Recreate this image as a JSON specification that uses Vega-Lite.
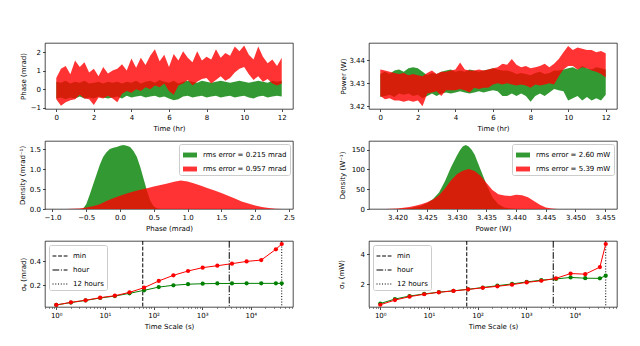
{
"$schema": "https://vega.github.io/schema/vega-lite/v6.json",
"padding": {"left": 17, "top": 42, "right": 5, "bottom": 5},
"config": {
 "font": "DejaVu Sans",
 "view": {"stroke": "black", "strokeWidth": 0.7},
 "axis": {"labelFontSize": 7, "titleFontSize": 7, "titleFontWeight": "normal", "labelColor": "black", "titleColor": "black", "tickColor": "black", "tickSize": 2.5, "tickWidth": 0.7, "labelPadding": 2, "titlePadding": 3.5, "grid": false, "domain": false, "labelFlush": false, "labelOverlap": false, "labelFont": "DejaVu Sans", "titleFont": "DejaVu Sans"},
 "legend": {"labelFontSize": 7, "labelFont": "DejaVu Sans", "labelColor": "black"}
},
"datasets": {
 "phG": [
  {"t":0,"lo":-0.5,"hi":0.4},{"t":0.25,"lo":-0.45,"hi":0.35},{"t":0.5,"lo":-0.55,"hi":0.45},{"t":0.75,"lo":-0.45,"hi":0.3},{"t":1,"lo":-0.5,"hi":0.4},{"t":1.25,"lo":-0.4,"hi":0.35},{"t":1.5,"lo":-0.5,"hi":0.45},{"t":1.75,"lo":-0.45,"hi":0.3},{"t":2,"lo":-0.5,"hi":0.35},{"t":2.25,"lo":-0.4,"hi":0.4},{"t":2.5,"lo":-0.45,"hi":0.3},{"t":2.75,"lo":-0.5,"hi":0.4},{"t":3,"lo":-0.45,"hi":0.35},{"t":3.25,"lo":-0.4,"hi":0.4},{"t":3.5,"lo":-0.5,"hi":0.3},{"t":3.75,"lo":-0.35,"hi":0.4},{"t":4,"lo":-0.45,"hi":0.35},{"t":4.25,"lo":-0.4,"hi":0.45},{"t":4.5,"lo":-0.35,"hi":0.3},{"t":4.75,"lo":-0.45,"hi":0.4},{"t":5,"lo":-0.4,"hi":0.45},{"t":5.25,"lo":-0.35,"hi":0.35},{"t":5.5,"lo":-0.45,"hi":0.5},{"t":5.75,"lo":-0.4,"hi":0.4},{"t":6,"lo":-0.5,"hi":0.35},{"t":6.25,"lo":-0.6,"hi":0.45},{"t":6.5,"lo":-0.55,"hi":0.3},{"t":6.75,"lo":-0.4,"hi":0.4},{"t":7,"lo":-0.35,"hi":0.45},{"t":7.25,"lo":-0.45,"hi":0.4},{"t":7.5,"lo":-0.4,"hi":0.35},{"t":7.75,"lo":-0.35,"hi":0.45},{"t":8,"lo":-0.45,"hi":0.4},{"t":8.25,"lo":-0.4,"hi":0.35},{"t":8.5,"lo":-0.35,"hi":0.4},{"t":8.75,"lo":-0.45,"hi":0.45},{"t":9,"lo":-0.4,"hi":0.4},{"t":9.25,"lo":-0.35,"hi":0.35},{"t":9.5,"lo":-0.45,"hi":0.4},{"t":9.75,"lo":-0.4,"hi":0.45},{"t":10,"lo":-0.35,"hi":0.4},{"t":10.25,"lo":-0.45,"hi":0.35},{"t":10.5,"lo":-0.5,"hi":0.4},{"t":10.75,"lo":-0.4,"hi":0.45},{"t":11,"lo":-0.35,"hi":0.4},{"t":11.25,"lo":-0.45,"hi":0.35},{"t":11.5,"lo":-0.4,"hi":0.45},{"t":11.75,"lo":-0.35,"hi":0.4},{"t":12,"lo":-0.4,"hi":0.45}
 ],
 "phR": [
  {"t":0,"lo":-0.55,"hi":0.6},{"t":0.25,"lo":-0.9,"hi":1.1},{"t":0.5,"lo":-0.7,"hi":1.25},{"t":0.75,"lo":-0.6,"hi":0.8},{"t":1,"lo":-0.55,"hi":1.55},{"t":1.25,"lo":-0.3,"hi":1.2},{"t":1.5,"lo":-0.5,"hi":1.45},{"t":1.75,"lo":-0.55,"hi":0.9},{"t":2,"lo":-0.85,"hi":1.1},{"t":2.25,"lo":-0.45,"hi":0.7},{"t":2.5,"lo":-0.5,"hi":1.2},{"t":2.75,"lo":-0.35,"hi":0.85},{"t":3,"lo":-0.5,"hi":1.0},{"t":3.25,"lo":-0.7,"hi":1.1},{"t":3.5,"lo":-0.25,"hi":1.35},{"t":3.75,"lo":-0.1,"hi":1.0},{"t":4,"lo":-0.2,"hi":1.65},{"t":4.25,"lo":0.0,"hi":1.15},{"t":4.5,"lo":-0.1,"hi":1.7},{"t":4.75,"lo":0.1,"hi":1.3},{"t":5,"lo":0.0,"hi":1.8},{"t":5.25,"lo":0.2,"hi":2.15},{"t":5.5,"lo":0.1,"hi":1.5},{"t":5.75,"lo":0.3,"hi":1.85},{"t":6,"lo":-0.1,"hi":1.2},{"t":6.25,"lo":-0.3,"hi":1.9},{"t":6.5,"lo":0.2,"hi":1.55},{"t":6.75,"lo":0.3,"hi":2.05},{"t":7,"lo":0.5,"hi":1.7},{"t":7.25,"lo":0.2,"hi":1.45},{"t":7.5,"lo":0.4,"hi":2.05},{"t":7.75,"lo":0.55,"hi":1.55},{"t":8,"lo":0.6,"hi":1.75},{"t":8.25,"lo":0.3,"hi":1.6},{"t":8.5,"lo":0.5,"hi":2.15},{"t":8.75,"lo":0.7,"hi":1.7},{"t":9,"lo":0.45,"hi":1.95},{"t":9.25,"lo":0.6,"hi":1.8},{"t":9.5,"lo":0.9,"hi":2.3},{"t":9.75,"lo":1.1,"hi":2.05},{"t":10,"lo":1.2,"hi":2.35},{"t":10.25,"lo":0.8,"hi":1.85},{"t":10.5,"lo":0.5,"hi":1.6},{"t":10.75,"lo":0.7,"hi":2.3},{"t":11,"lo":0.4,"hi":1.75},{"t":11.25,"lo":0.55,"hi":1.4},{"t":11.5,"lo":0.3,"hi":1.6},{"t":11.75,"lo":0.2,"hi":1.25},{"t":12,"lo":0.3,"hi":1.7}
 ],
 "pwG": [
  {"t":0,"lo":3.424,"hi":3.434},{"t":0.25,"lo":3.4245,"hi":3.435},{"t":0.5,"lo":3.425,"hi":3.434},{"t":0.75,"lo":3.424,"hi":3.4355},{"t":1,"lo":3.4255,"hi":3.436},{"t":1.25,"lo":3.425,"hi":3.435},{"t":1.5,"lo":3.4255,"hi":3.4365},{"t":1.75,"lo":3.4245,"hi":3.437},{"t":2,"lo":3.425,"hi":3.4365},{"t":2.25,"lo":3.4235,"hi":3.435},{"t":2.5,"lo":3.4245,"hi":3.4335},{"t":2.75,"lo":3.4255,"hi":3.4345},{"t":3,"lo":3.4245,"hi":3.434},{"t":3.25,"lo":3.4255,"hi":3.435},{"t":3.5,"lo":3.426,"hi":3.4355},{"t":3.75,"lo":3.4255,"hi":3.436},{"t":4,"lo":3.426,"hi":3.435},{"t":4.25,"lo":3.4265,"hi":3.4355},{"t":4.5,"lo":3.426,"hi":3.435},{"t":4.75,"lo":3.4255,"hi":3.436},{"t":5,"lo":3.426,"hi":3.4355},{"t":5.25,"lo":3.4265,"hi":3.435},{"t":5.5,"lo":3.426,"hi":3.4355},{"t":5.75,"lo":3.4265,"hi":3.436},{"t":6,"lo":3.427,"hi":3.4365},{"t":6.25,"lo":3.4265,"hi":3.436},{"t":6.5,"lo":3.4245,"hi":3.4355},{"t":6.75,"lo":3.4245,"hi":3.4355},{"t":7,"lo":3.4255,"hi":3.435},{"t":7.25,"lo":3.4245,"hi":3.434},{"t":7.5,"lo":3.4255,"hi":3.4345},{"t":7.75,"lo":3.4245,"hi":3.434},{"t":8,"lo":3.422,"hi":3.4335},{"t":8.25,"lo":3.4245,"hi":3.4345},{"t":8.5,"lo":3.4255,"hi":3.435},{"t":8.75,"lo":3.4245,"hi":3.434},{"t":9,"lo":3.426,"hi":3.4345},{"t":9.25,"lo":3.4275,"hi":3.4355},{"t":9.5,"lo":3.427,"hi":3.4355},{"t":9.75,"lo":3.4265,"hi":3.436},{"t":10,"lo":3.4225,"hi":3.4365},{"t":10.25,"lo":3.4235,"hi":3.437},{"t":10.5,"lo":3.4245,"hi":3.436},{"t":10.75,"lo":3.4225,"hi":3.4375},{"t":11,"lo":3.424,"hi":3.4365},{"t":11.25,"lo":3.4225,"hi":3.436},{"t":11.5,"lo":3.4235,"hi":3.437},{"t":11.75,"lo":3.4225,"hi":3.4365},{"t":12,"lo":3.425,"hi":3.436}
 ],
 "pwR": [
  {"t":0,"lo":3.4245,"hi":3.436},{"t":0.25,"lo":3.423,"hi":3.4355},{"t":0.5,"lo":3.4235,"hi":3.435},{"t":0.75,"lo":3.4225,"hi":3.4345},{"t":1,"lo":3.4225,"hi":3.434},{"t":1.25,"lo":3.422,"hi":3.4345},{"t":1.5,"lo":3.4225,"hi":3.4335},{"t":1.75,"lo":3.422,"hi":3.434},{"t":2,"lo":3.4225,"hi":3.4335},{"t":2.25,"lo":3.42,"hi":3.433},{"t":2.5,"lo":3.4255,"hi":3.4345},{"t":2.75,"lo":3.426,"hi":3.4355},{"t":3,"lo":3.4265,"hi":3.434},{"t":3.25,"lo":3.4245,"hi":3.435},{"t":3.5,"lo":3.427,"hi":3.435},{"t":3.75,"lo":3.427,"hi":3.4355},{"t":4,"lo":3.427,"hi":3.436},{"t":4.25,"lo":3.4275,"hi":3.439},{"t":4.5,"lo":3.427,"hi":3.436},{"t":4.75,"lo":3.426,"hi":3.4355},{"t":5,"lo":3.428,"hi":3.4355},{"t":5.25,"lo":3.4275,"hi":3.436},{"t":5.5,"lo":3.428,"hi":3.4355},{"t":5.75,"lo":3.428,"hi":3.436},{"t":6,"lo":3.4295,"hi":3.4365},{"t":6.25,"lo":3.43,"hi":3.437},{"t":6.5,"lo":3.4295,"hi":3.4385},{"t":6.75,"lo":3.43,"hi":3.438},{"t":7,"lo":3.4295,"hi":3.4405},{"t":7.25,"lo":3.429,"hi":3.438},{"t":7.5,"lo":3.4295,"hi":3.437},{"t":7.75,"lo":3.429,"hi":3.4375},{"t":8,"lo":3.428,"hi":3.4365},{"t":8.25,"lo":3.4295,"hi":3.437},{"t":8.5,"lo":3.429,"hi":3.4375},{"t":8.75,"lo":3.4295,"hi":3.4385},{"t":9,"lo":3.43,"hi":3.437},{"t":9.25,"lo":3.4295,"hi":3.4385},{"t":9.5,"lo":3.433,"hi":3.4405},{"t":9.75,"lo":3.436,"hi":3.4435},{"t":10,"lo":3.4375,"hi":3.4462},{"t":10.25,"lo":3.4375,"hi":3.4445},{"t":10.5,"lo":3.436,"hi":3.4455},{"t":10.75,"lo":3.437,"hi":3.445},{"t":11,"lo":3.4365,"hi":3.4445},{"t":11.25,"lo":3.4355,"hi":3.4445},{"t":11.5,"lo":3.435,"hi":3.4435},{"t":11.75,"lo":3.434,"hi":3.444},{"t":12,"lo":3.4325,"hi":3.443}
 ],
 "hPhG": [
  {"x":-0.55,"d":0},{"x":-0.5,"d":0.12},{"x":-0.45,"d":0.35},{"x":-0.4,"d":0.6},{"x":-0.35,"d":0.85},{"x":-0.3,"d":1.1},{"x":-0.25,"d":1.3},{"x":-0.2,"d":1.42},{"x":-0.15,"d":1.5},{"x":-0.1,"d":1.53},{"x":-0.05,"d":1.55},{"x":0,"d":1.58},{"x":0.05,"d":1.6},{"x":0.1,"d":1.58},{"x":0.15,"d":1.55},{"x":0.2,"d":1.45},{"x":0.25,"d":1.3},{"x":0.3,"d":1.05},{"x":0.35,"d":0.75},{"x":0.4,"d":0.45},{"x":0.45,"d":0.2},{"x":0.5,"d":0.06},{"x":0.55,"d":0.01},{"x":0.6,"d":0}
 ],
 "hPhR": [
  {"x":-0.8,"d":0},{"x":-0.7,"d":0.005},{"x":-0.6,"d":0.015},{"x":-0.5,"d":0.035},{"x":-0.4,"d":0.07},{"x":-0.3,"d":0.12},{"x":-0.2,"d":0.2},{"x":-0.1,"d":0.27},{"x":0,"d":0.33},{"x":0.1,"d":0.39},{"x":0.2,"d":0.44},{"x":0.3,"d":0.48},{"x":0.4,"d":0.52},{"x":0.5,"d":0.56},{"x":0.6,"d":0.6},{"x":0.7,"d":0.64},{"x":0.8,"d":0.68},{"x":0.9,"d":0.71},{"x":1.0,"d":0.69},{"x":1.1,"d":0.64},{"x":1.2,"d":0.58},{"x":1.3,"d":0.52},{"x":1.4,"d":0.46},{"x":1.5,"d":0.4},{"x":1.6,"d":0.33},{"x":1.7,"d":0.26},{"x":1.8,"d":0.19},{"x":1.9,"d":0.14},{"x":2.0,"d":0.09},{"x":2.1,"d":0.05},{"x":2.2,"d":0.025},{"x":2.3,"d":0.008},{"x":2.4,"d":0}
 ],
 "hPwG": [
  {"x":3.42,"d":0},{"x":3.422,"d":2},{"x":3.424,"d":8},{"x":3.425,"d":15},{"x":3.426,"d":25},{"x":3.427,"d":42},{"x":3.428,"d":70},{"x":3.429,"d":105},{"x":3.43,"d":135},{"x":3.4305,"d":148},{"x":3.431,"d":158},{"x":3.4315,"d":162},{"x":3.432,"d":158},{"x":3.4325,"d":150},{"x":3.433,"d":138},{"x":3.434,"d":100},{"x":3.435,"d":62},{"x":3.436,"d":30},{"x":3.437,"d":12},{"x":3.438,"d":4},{"x":3.439,"d":1},{"x":3.44,"d":0}
 ],
 "hPwR": [
  {"x":3.418,"d":0},{"x":3.42,"d":1.5},{"x":3.421,"d":3},{"x":3.422,"d":5},{"x":3.423,"d":8},{"x":3.424,"d":12},{"x":3.425,"d":17},{"x":3.426,"d":24},{"x":3.427,"d":35},{"x":3.428,"d":52},{"x":3.429,"d":72},{"x":3.43,"d":88},{"x":3.431,"d":97},{"x":3.432,"d":101},{"x":3.433,"d":96},{"x":3.434,"d":84},{"x":3.435,"d":66},{"x":3.436,"d":48},{"x":3.437,"d":37},{"x":3.438,"d":34},{"x":3.439,"d":33},{"x":3.44,"d":36},{"x":3.441,"d":35},{"x":3.442,"d":30},{"x":3.443,"d":20},{"x":3.444,"d":11},{"x":3.445,"d":4},{"x":3.446,"d":1},{"x":3.447,"d":0}
 ],
 "adPh": [
  {"tau":1,"g":0.036,"r":0.036},{"tau":2,"g":0.056,"r":0.058},{"tau":4,"g":0.074,"r":0.075},{"tau":8,"g":0.094,"r":0.097},{"tau":16,"g":0.11,"r":0.113},{"tau":32,"g":0.133,"r":0.141},{"tau":64,"g":0.158,"r":0.18},{"tau":128,"g":0.185,"r":0.236},{"tau":256,"g":0.2,"r":0.283},{"tau":512,"g":0.209,"r":0.319},{"tau":1024,"g":0.213,"r":0.347},{"tau":2048,"g":0.215,"r":0.363},{"tau":4096,"g":0.215,"r":0.38},{"tau":8192,"g":0.216,"r":0.399},{"tau":16384,"g":0.216,"r":0.41},{"tau":32768,"g":0.216,"r":0.5},{"tau":43200,"g":0.216,"r":0.544}
 ],
 "adPw": [
  {"tau":1,"g":0.72,"r":0.64},{"tau":2,"g":1.02,"r":0.95},{"tau":4,"g":1.22,"r":1.18},{"tau":8,"g":1.36,"r":1.34},{"tau":16,"g":1.48,"r":1.47},{"tau":32,"g":1.57,"r":1.56},{"tau":64,"g":1.67,"r":1.66},{"tau":128,"g":1.79,"r":1.77},{"tau":256,"g":1.91,"r":1.87},{"tau":512,"g":2.03,"r":1.98},{"tau":1024,"g":2.16,"r":2.13},{"tau":2048,"g":2.28,"r":2.24},{"tau":4096,"g":2.36,"r":2.4},{"tau":8192,"g":2.46,"r":2.72},{"tau":16384,"g":2.41,"r":2.68},{"tau":32768,"g":2.4,"r":3.15},{"tau":43200,"g":2.58,"r":4.69}
 ],
 "vl": [
  {"t":60,"n":"min"},{"t":3600,"n":"hour"},{"t":43200,"n":"12 hours"}
 ]
},
"columns": 2,
"spacing": {"row": 32, "column": 76},
"bounds": "flush",
"resolve": {"scale": {"color": "independent", "strokeDash": "independent"}},
"concat": [
   {"width": 248, "height": 66,
    "layer": [
     {"data": {"name": "phG"}, "mark": {"type": "area", "color": "green", "opacity": 0.8},
      "encoding": {
       "x": {"field": "t", "type": "quantitative", "scale": {"domain": [-0.6, 12.6], "nice": false}, "axis": {"values": [0,2,4,6,8,10,12], "format": "d", "tickCount": 50, "labelOverlap": false, "title": "Time (hr)"}},
       "y": {"field": "lo", "type": "quantitative", "scale": {"domain": [-1.07, 2.49], "nice": false, "zero": false}, "axis": {"values": [-1,0,1,2], "format": "d", "tickCount": 50, "labelOverlap": false, "title": "Phase (mrad)", "titlePadding": 4}},
       "y2": {"field": "hi"}}},
     {"data": {"name": "phR"}, "mark": {"type": "area", "color": "red", "opacity": 0.8},
      "encoding": {"x": {"field": "t", "type": "quantitative"}, "y": {"field": "lo", "type": "quantitative"}, "y2": {"field": "hi"}}}
    ]},
   {"width": 248, "height": 66,
    "layer": [
     {"data": {"name": "pwG"}, "mark": {"type": "area", "color": "green", "opacity": 0.8},
      "encoding": {
       "x": {"field": "t", "type": "quantitative", "scale": {"domain": [-0.6, 12.6], "nice": false}, "axis": {"values": [0,2,4,6,8,10,12], "format": "d", "tickCount": 50, "labelOverlap": false, "title": "Time (hr)"}},
       "y": {"field": "lo", "type": "quantitative", "scale": {"domain": [3.4188, 3.4475], "nice": false, "zero": false}, "axis": {"values": [3.42,3.43,3.44], "tickCount": 50, "labelOverlap": false, "format": ".2f", "title": "Power (W)", "titlePadding": 2.5}},
       "y2": {"field": "hi"}}},
     {"data": {"name": "pwR"}, "mark": {"type": "area", "color": "red", "opacity": 0.8},
      "encoding": {"x": {"field": "t", "type": "quantitative"}, "y": {"field": "lo", "type": "quantitative"}, "y2": {"field": "hi"}}}
    ]},
   {"width": 248, "height": 68,
    "layer": [
     {"data": {"name": "hPhG"}, "mark": {"type": "area", "opacity": 0.8},
      "encoding": {
       "x": {"field": "x", "type": "quantitative", "scale": {"domain": [-1.11, 2.56], "nice": false}, "axis": {"values": [-1,-0.5,0,0.5,1,1.5,2,2.5], "tickCount": 50, "labelOverlap": false, "format": ".1f", "title": "Phase (mrad)"}},
       "y": {"field": "d", "type": "quantitative", "scale": {"domain": [0, 1.7], "nice": false}, "axis": {"values": [0,0.5,1,1.5], "tickCount": 50, "labelOverlap": false, "format": ".1f", "title": "Density (mrad⁻¹)", "titlePadding": 4.2}},
       "color": {"datum": "rms error = 0.215 mrad", "type": "nominal",
        "scale": {"domain": ["rms error = 0.215 mrad", "rms error = 0.957 mrad"], "range": ["green", "red"]},
        "legend": {"title": null, "orient": "top-right", "offset": 3, "padding": 3, "fillColor": "white", "strokeColor": "#cccccc", "cornerRadius": 2, "symbolType": "M-1,-0.35H1V0.35H-1Z", "symbolSize": 196, "symbolOpacity": 0.8, "rowPadding": 3, "labelOffset": 5}}}},
     {"data": {"name": "hPhR"}, "mark": {"type": "area", "opacity": 0.8},
      "encoding": {"x": {"field": "x", "type": "quantitative"}, "y": {"field": "d", "type": "quantitative"}, "color": {"datum": "rms error = 0.957 mrad", "type": "nominal"}}}
    ]},
   {"width": 248, "height": 68,
    "layer": [
     {"data": {"name": "hPwG"}, "mark": {"type": "area", "opacity": 0.8},
      "encoding": {
       "x": {"field": "x", "type": "quantitative", "scale": {"domain": [3.4152, 3.457], "nice": false, "zero": false}, "axis": {"values": [3.42,3.425,3.43,3.435,3.44,3.445,3.45,3.455], "tickCount": 50, "labelOverlap": false, "format": ".3f", "title": "Power (W)"}},
       "y": {"field": "d", "type": "quantitative", "scale": {"domain": [0, 172], "nice": false}, "axis": {"values": [0,50,100,150], "format": "d", "tickCount": 50, "labelOverlap": false, "title": "Density (W⁻¹)", "titlePadding": 6}},
       "color": {"datum": "rms error = 2.60 mW", "type": "nominal",
        "scale": {"domain": ["rms error = 2.60 mW", "rms error = 5.39 mW"], "range": ["green", "red"]},
        "legend": {"title": null, "orient": "top-right", "offset": 3, "padding": 3, "fillColor": "white", "strokeColor": "#cccccc", "cornerRadius": 2, "symbolType": "M-1,-0.35H1V0.35H-1Z", "symbolSize": 196, "symbolOpacity": 0.8, "rowPadding": 3, "labelOffset": 5}}}},
     {"data": {"name": "hPwR"}, "mark": {"type": "area", "opacity": 0.8},
      "encoding": {"x": {"field": "x", "type": "quantitative"}, "y": {"field": "d", "type": "quantitative"}, "color": {"datum": "rms error = 5.39 mW", "type": "nominal"}}}
    ]},
   {"width": 248, "height": 66,
    "resolve": {"axis": {"x": "independent"}},
    "layer": [
     {"data": {"name": "vl"}, "mark": {"type": "rule", "color": "black", "strokeWidth": 1},
      "encoding": {
       "x": {"field": "t", "type": "quantitative", "scale": {"type": "log", "domain": [0.5866, 73670], "nice": false}, "axis": {"orient": "bottom", "values": [0.6,0.7,0.8,0.9,2,3,4,5,6,7,8,9,20,30,40,50,60,70,80,90,200,300,400,500,600,700,800,900,2000,3000,4000,5000,6000,7000,8000,9000,20000,30000,40000,50000,60000,70000], "tickCount": 100, "labels": false, "tickSize": 1.4, "tickWidth": 0.5, "title": null}},
       "strokeDash": {"field": "n", "type": "nominal", "scale": {"domain": ["min", "hour", "12 hours"], "range": [[3.9,1.7],[6.7,1.7,1.05,1.7],[1.05,1.7]]},
        "legend": {"title": null, "orient": "top-left", "offset": 4, "padding": 3, "fillColor": "white", "strokeColor": "#cccccc", "cornerRadius": 2, "symbolType": "stroke", "symbolSize": 225, "symbolStrokeWidth": 1, "symbolStrokeColor": "black", "rowPadding": 3, "labelOffset": 5}}}},
     {"data": {"name": "adPh"}, "mark": {"type": "line", "color": "green", "strokeWidth": 1},
      "encoding": {
       "x": {"field": "tau", "type": "quantitative", "axis": {"orient": "bottom", "values": [1,10,100,1000,10000], "tickCount": 50, "labelOverlap": false, "labelExpr": "datum.value == 1 ? '10⁰' : datum.value == 10 ? '10¹' : datum.value == 100 ? '10²' : datum.value == 1000 ? '10³' : '10⁴'", "title": "Time Scale (s)"}},
       "y": {"field": "g", "type": "quantitative", "scale": {"domain": [0.019, 0.569], "nice": false, "zero": false}, "axis": {"values": [0.2, 0.4], "tickCount": 50, "labelOverlap": false, "format": ".1f", "title": "σᵩ (mrad)", "titlePadding": 3}}}},
     {"data": {"name": "adPh"}, "mark": {"type": "point", "filled": true, "color": "green", "size": 18, "opacity": 1},
      "encoding": {"x": {"field": "tau", "type": "quantitative", "axis": null}, "y": {"field": "g", "type": "quantitative"}}},
     {"data": {"name": "adPh"}, "mark": {"type": "line", "color": "red", "strokeWidth": 1},
      "encoding": {"x": {"field": "tau", "type": "quantitative", "axis": null}, "y": {"field": "r", "type": "quantitative"}}},
     {"data": {"name": "adPh"}, "mark": {"type": "point", "filled": true, "color": "red", "size": 18, "opacity": 1},
      "encoding": {"x": {"field": "tau", "type": "quantitative", "axis": null}, "y": {"field": "r", "type": "quantitative"}}}
    ]},
   {"width": 248, "height": 66,
    "resolve": {"axis": {"x": "independent"}},
    "layer": [
     {"data": {"name": "vl"}, "mark": {"type": "rule", "color": "black", "strokeWidth": 1},
      "encoding": {
       "x": {"field": "t", "type": "quantitative", "scale": {"type": "log", "domain": [0.5866, 73670], "nice": false}, "axis": {"orient": "bottom", "values": [0.6,0.7,0.8,0.9,2,3,4,5,6,7,8,9,20,30,40,50,60,70,80,90,200,300,400,500,600,700,800,900,2000,3000,4000,5000,6000,7000,8000,9000,20000,30000,40000,50000,60000,70000], "tickCount": 100, "labels": false, "tickSize": 1.4, "tickWidth": 0.5, "title": null}},
       "strokeDash": {"field": "n", "type": "nominal", "scale": {"domain": ["min", "hour", "12 hours"], "range": [[3.9,1.7],[6.7,1.7,1.05,1.7],[1.05,1.7]]},
        "legend": {"title": null, "orient": "top-left", "offset": 4, "padding": 3, "fillColor": "white", "strokeColor": "#cccccc", "cornerRadius": 2, "symbolType": "stroke", "symbolSize": 225, "symbolStrokeWidth": 1, "symbolStrokeColor": "black", "rowPadding": 3, "labelOffset": 5}}}},
     {"data": {"name": "adPw"}, "mark": {"type": "line", "color": "green", "strokeWidth": 1},
      "encoding": {
       "x": {"field": "tau", "type": "quantitative", "axis": {"orient": "bottom", "values": [1,10,100,1000,10000], "tickCount": 50, "labelOverlap": false, "labelExpr": "datum.value == 1 ? '10⁰' : datum.value == 10 ? '10¹' : datum.value == 100 ? '10²' : datum.value == 1000 ? '10³' : '10⁴'", "title": "Time Scale (s)"}},
       "y": {"field": "g", "type": "quantitative", "scale": {"domain": [0.49, 4.89], "nice": false, "zero": false}, "axis": {"values": [2, 4], "format": "d", "tickCount": 50, "labelOverlap": false, "title": "σₚ (mW)", "titlePadding": 16}}}},
     {"data": {"name": "adPw"}, "mark": {"type": "point", "filled": true, "color": "green", "size": 18, "opacity": 1},
      "encoding": {"x": {"field": "tau", "type": "quantitative", "axis": null}, "y": {"field": "g", "type": "quantitative"}}},
     {"data": {"name": "adPw"}, "mark": {"type": "line", "color": "red", "strokeWidth": 1},
      "encoding": {"x": {"field": "tau", "type": "quantitative", "axis": null}, "y": {"field": "r", "type": "quantitative"}}},
     {"data": {"name": "adPw"}, "mark": {"type": "point", "filled": true, "color": "red", "size": 18, "opacity": 1},
      "encoding": {"x": {"field": "tau", "type": "quantitative", "axis": null}, "y": {"field": "r", "type": "quantitative"}}}
    ]}
]
}
